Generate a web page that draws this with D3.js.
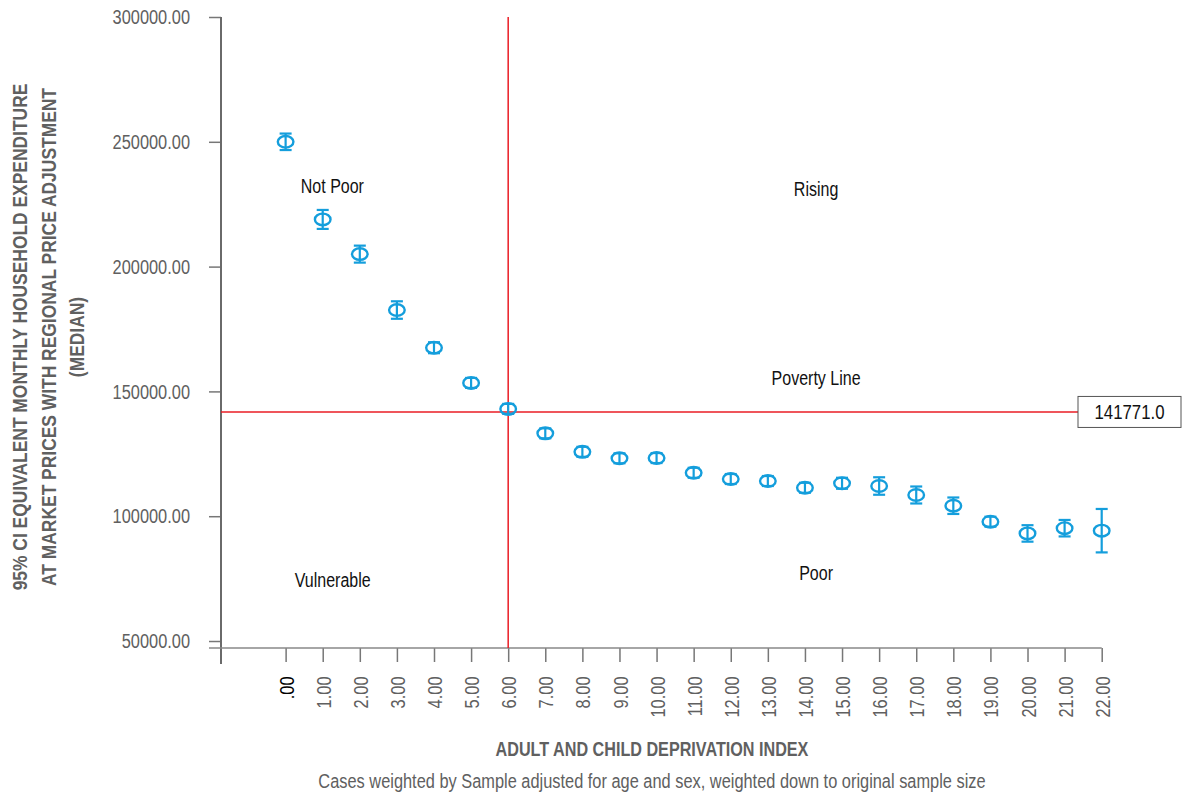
<!DOCTYPE html>
<html>
<head>
<meta charset="utf-8">
<script src="https://cdn.jsdelivr.net/npm/d3@7"></script>
<style>
  body { margin: 0; background: #fff; }
  text { font-family: "Liberation Sans Narrow", "Liberation Sans", Arial, sans-serif; }
</style>
</head>
<body>
<div class="my-graph"></div>
<script>
// deprivation index categories
const index = [0, 1, 2, 3, 4, 5, 6, 7, 8, 9, 10, 11, 12, 13, 14, 15, 16, 17, 18, 19, 20, 21, 22]
// median monthly household expenditure + 95% CI
const median = [250000, 218900, 205000, 182600, 167500, 153400, 143000, 133200, 125800, 123200, 123300, 117400,
  114900, 114100, 111400, 113200, 112100, 108500, 104200, 97800, 93100, 95200, 94200]
const ciLow = [246700, 215100, 201600, 179100, 165300, 151400, 141000, 131200, 123800, 121200, 121300, 115400,
  112900, 112100, 109400, 111000, 108600, 105100, 100900, 95800, 89800, 91900, 85500]
const ciHigh = [253300, 222700, 208400, 186100, 169700, 155400, 145000, 135200, 127800, 125200, 125300, 119400,
  116900, 116100, 113400, 115400, 115600, 111900, 107500, 99800, 96400, 98500, 102900]

const yTicks = [50000, 100000, 150000, 200000, 250000, 300000]
const povertyLine = 141771
const splitIndex = 6

const quadrantLabels = ['Not Poor', 'Rising', 'Poverty Line', 'Vulnerable', 'Poor']
const quadrantX = [1.26, 14.3, 14.3, 1.27, 14.3]
const quadrantY = [229600, 228300, 152500, 71600, 74400]

const yTitle = [
  '95% CI EQUIVALENT MONTHLY HOUSEHOLD EXPENDITURE',
  'AT MARKET PRICES WITH REGIONAL PRICE ADJUSTMENT',
  '(MEDIAN)'
]
const xTitle = 'ADULT AND CHILD DEPRIVATION INDEX'
const footnote = 'Cases weighted by Sample adjusted for age and sex, weighted down to original sample size'

const dataset = index.map((d, i) => ({ x: d, y: median[i], lo: ciLow[i], hi: ciHigh[i] }))

const width = 1184
const height = 796
const plot = { left: 221, right: 1101.7, top: 17, bottom: 648 }

const blue = '#149edc'
const red = '#ea1c24'
const axisGrey = '#6a6a6a'
const textGrey = '#606060'

// no condensed font installed -> squeeze text horizontally
const narrow = (sel, sx) => {
  sel.each(function() {
    const t = d3.select(this)
    const x = +t.attr('x') || 0
    t.attr('x', x / sx)
      .attr('transform', (t.attr('transform') || '') + ` scale(${sx},1)`)
  })
}

const xScale = d3.scaleLinear()
  .domain([-1.742, 22])
  .range([plot.left, plot.right])

const yScale = d3.scaleLinear()
  .domain([47200, 300000])
  .range([plot.bottom, plot.top])

const svg = d3.select('.my-graph')
  .append('svg')
  .attr('width', width)
  .attr('height', height)

// y axis
const yAxis = svg.append('g')
  .attr('transform', `translate(${plot.left}, 0)`)
  .call(d3.axisLeft(yScale).tickValues(yTicks).tickSize(12).tickPadding(19).tickFormat(d3.format('.2f')))
yAxis.select('.domain').remove()
yAxis.selectAll('.tick line').attr('stroke', '#777').attr('stroke-width', 1.5)
yAxis.selectAll('.tick text')
  .attr('fill', textGrey)
  .style('font-size', '21px')
  .call(narrow, 0.78)

// x axis
const xAxis = svg.append('g')
  .attr('transform', `translate(0, ${plot.bottom})`)
  .call(d3.axisBottom(xScale).tickValues(index).tickSize(14)
    .tickFormat(d => d === 0 ? '.00' : d3.format('.2f')(d)))
xAxis.select('.domain').remove()
xAxis.selectAll('.tick line').attr('stroke', '#777').attr('stroke-width', 1.5)
xAxis.selectAll('.tick text')
  .attr('transform', 'rotate(-90)')
  .attr('text-anchor', 'end')
  .attr('x', -28.5)
  .attr('y', 0)
  .attr('dy', '0.36em')
  .attr('fill', d => d === 0 ? '#000' : textGrey)
  .style('font-size', '21px')
  .call(narrow, 0.78)

// axis lines (y runs past the x axis, x runs past the y axis)
svg.append('line')
  .attr('x1', plot.left).attr('x2', plot.left)
  .attr('y1', plot.top).attr('y2', plot.bottom + 16)
  .attr('stroke', axisGrey).attr('stroke-width', 2)
svg.append('line')
  .attr('x1', plot.left - 12).attr('x2', plot.right)
  .attr('y1', plot.bottom).attr('y2', plot.bottom)
  .attr('stroke', '#888').attr('stroke-width', 1.5)

// reference lines
const boxX = 1078
svg.append('line')
  .attr('x1', xScale(splitIndex)).attr('x2', xScale(splitIndex))
  .attr('y1', plot.top).attr('y2', plot.bottom)
  .attr('stroke', red).attr('stroke-width', 1.5)
svg.append('line')
  .attr('x1', plot.left).attr('x2', boxX)
  .attr('y1', yScale(povertyLine)).attr('y2', yScale(povertyLine))
  .attr('stroke', red).attr('stroke-width', 1.5)

svg.append('rect')
  .attr('x', boxX).attr('y', yScale(povertyLine) - 15.5)
  .attr('width', 103).attr('height', 31)
  .attr('fill', '#fff').attr('stroke', '#555').attr('stroke-width', 1)
svg.append('text')
  .attr('x', boxX + 51.5).attr('y', yScale(povertyLine) + 7.5)
  .attr('text-anchor', 'middle')
  .style('font-size', '21px')
  .attr('fill', '#111')
  .text(d3.format('.1f')(povertyLine))
  .call(narrow, 0.8)

// quadrant labels
svg.selectAll('.quad')
  .data(quadrantLabels)
  .enter().append('text')
  .attr('class', 'quad')
  .attr('x', (d, i) => xScale(quadrantX[i]))
  .attr('y', (d, i) => yScale(quadrantY[i]))
  .attr('text-anchor', 'middle')
  .attr('fill', '#111')
  .style('font-size', '20px')
  .text(d => d)
  .call(narrow, 0.8)

// error bars + medians
const pts = svg.selectAll('.pt')
  .data(dataset)
  .enter().append('g')
  .attr('class', 'pt')
  .attr('transform', d => `translate(${xScale(d.x)}, 0)`)

pts.append('line')
  .attr('y1', d => yScale(d.lo)).attr('y2', d => yScale(d.hi))
  .attr('stroke', blue).attr('stroke-width', 2.2)
pts.append('line')
  .attr('x1', -6).attr('x2', 6)
  .attr('y1', d => yScale(d.lo)).attr('y2', d => yScale(d.lo))
  .attr('stroke', blue).attr('stroke-width', 2.2)
pts.append('line')
  .attr('x1', -6).attr('x2', 6)
  .attr('y1', d => yScale(d.hi)).attr('y2', d => yScale(d.hi))
  .attr('stroke', blue).attr('stroke-width', 2.2)
pts.append('ellipse')
  .attr('cy', d => yScale(d.y))
  .attr('rx', 7.8).attr('ry', 5.8)
  .attr('fill', 'none')
  .attr('stroke', blue).attr('stroke-width', 2.4)

// titles
svg.append('g')
  .selectAll('text')
  .data(yTitle)
  .enter().append('text')
  .attr('transform', (d, i) => `translate(${27 + i * 28.5}, 337) rotate(-90)`)
  .attr('text-anchor', 'middle')
  .attr('fill', textGrey)
  .style('font-size', '21px')
  .style('font-weight', 'bold')
  .text(d => d)
  .call(narrow, 0.83)

svg.append('text')
  .attr('x', 652).attr('y', 756)
  .attr('text-anchor', 'middle')
  .attr('fill', textGrey)
  .style('font-size', '21px')
  .style('font-weight', 'bold')
  .text(xTitle)
  .call(narrow, 0.77)

svg.append('text')
  .attr('x', 652).attr('y', 788)
  .attr('text-anchor', 'middle')
  .attr('fill', textGrey)
  .style('font-size', '21px')
  .text(footnote)
  .call(narrow, 0.78)
</script>
</body>
</html>
